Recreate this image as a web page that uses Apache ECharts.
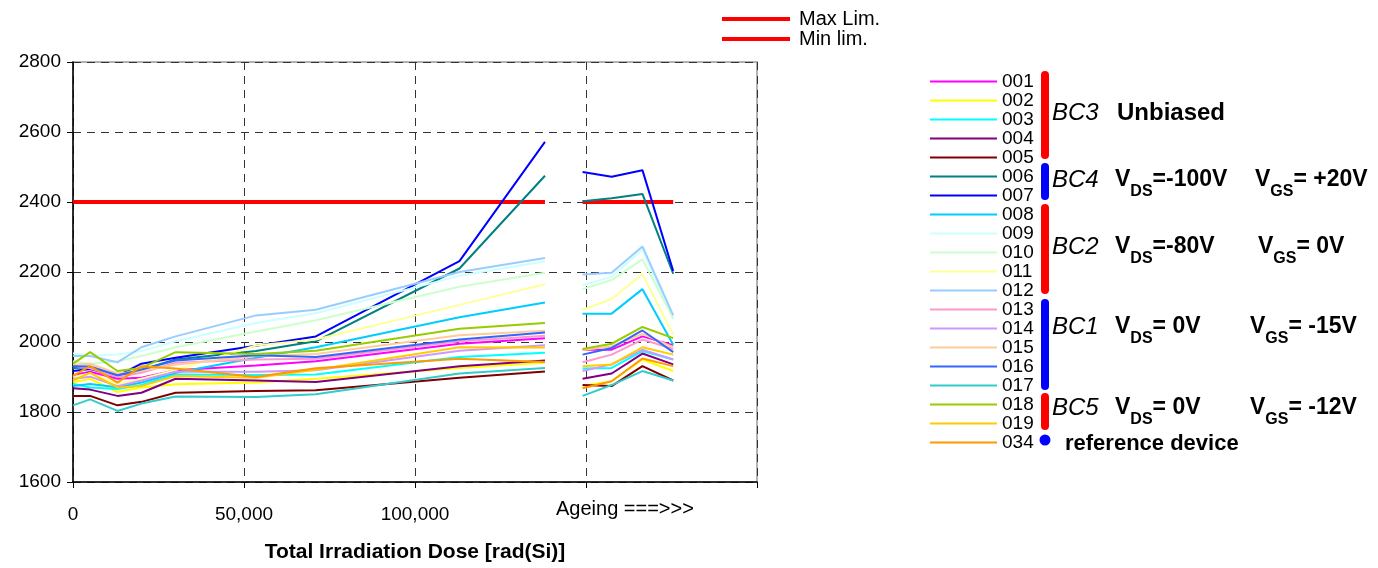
<!DOCTYPE html>
<html>
<head>
<meta charset="utf-8">
<script src="https://cdn.jsdelivr.net/npm/echarts@6/dist/echarts.min.js"></script>
<style>
  html, body { margin: 0; padding: 0; background: #fff; }
  #main { width: 1378px; height: 568px; }
</style>
</head>
<body>
<div id="main"></div>
<script>
// doses [rad(Si)] where the devices were measured, then the ageing steps
const doseIrr = [0, 5000, 13000, 20000, 30000, 53500, 71000, 113000, 138000];
const doseAgeing = [149000, 157500, 166500, 175500];
const gapDose = 143500; // no measurement here, the line breaks

const yTicks = ['1600', '1800', '2000', '2200', '2400', '2600', '2800'];
const xTickLabels = {0: '0', 50000: '50,000', 100000: '100,000'};

const maxLimit = 2400;
const minLimit = 1400; // below the visible range

const devices = ['001', '002', '003', '004', '005', '006', '007', '008', '009', '010',
  '011', '012', '013', '014', '015', '016', '017', '018', '019', '034'];
const devColors = ['#FF00FF', '#FFFF00', '#00FFFF', '#800080', '#800000', '#008080', '#0000FF',
  '#00CCFF', '#CCFFFF', '#CCFFCC', '#FFFF99', '#99CCFF', '#FF99CC', '#CC99FF', '#FFCC99',
  '#3366FF', '#33CCCC', '#99CC00', '#FFCC00', '#FF9900'];

// 9 irradiation readings followed by 4 ageing readings
const dev001 = [1905, 1915, 1895, 1898, 1919, 1933, 1945, 1995, 2011, 1978, 1978, 2016, 1991];
const dev002 = [1885, 1895, 1857, 1870, 1879, 1884, 1895, 1926, 1941, 1874, 1888, 1950, 1917];
const dev003 = [1880, 1870, 1866, 1877, 1907, 1906, 1907, 1957, 1969, 1924, 1926, 1974, 1950];
const dev004 = [1868, 1864, 1846, 1855, 1895, 1890, 1886, 1931, 1947, 1895, 1910, 1967, 1936];
const dev005 = [1846, 1846, 1819, 1829, 1855, 1860, 1862, 1898, 1916, 1877, 1874, 1931, 1890];
const dev006 = [1926, 1928, 1900, 1921, 1950, 1974, 2002, 2210, 2475, 2402, 2411, 2423, 2195];
const dev007 = [1917, 1923, 1903, 1938, 1955, 1989, 2016, 2231, 2572, 2486, 2472, 2491, 2203];
const dev008 = [1874, 1880, 1871, 1884, 1912, 1955, 1985, 2071, 2113, 2081, 2081, 2151, 1992];
const dev009 = [1968, 1960, 1964, 1974, 2002, 2054, 2082, 2189, 2231, 2163, 2186, 2265, 2065];
const dev010 = [1945, 1938, 1945, 1960, 1985, 2030, 2062, 2158, 2198, 2151, 2177, 2236, 2068];
const dev011 = [1900, 1910, 1880, 1895, 1920, 1990, 2007, 2106, 2165, 2092, 2123, 2194, 2021];
const dev012 = [1960, 1960, 1942, 1985, 2016, 2076, 2092, 2200, 2240, 2193, 2198, 2273, 2076];
const dev013 = [1932, 1925, 1900, 1912, 1941, 1950, 1952, 2002, 2018, 1942, 1964, 2007, 1980];
const dev014 = [1895, 1901, 1874, 1890, 1915, 1915, 1919, 1975, 1991, 1917, 1936, 1978, 1950];
const dev015 = [1935, 1938, 1910, 1918, 1935, 1960, 1966, 2019, 2032, 1977, 1988, 2023, 1985];
const dev016 = [1931, 1930, 1905, 1921, 1947, 1962, 1957, 2007, 2027, 1964, 1983, 2033, 1971];
const dev017 = [1819, 1836, 1803, 1824, 1844, 1843, 1851, 1910, 1926, 1846, 1877, 1917, 1890];
const dev018 = [1938, 1971, 1917, 1926, 1971, 1966, 1975, 2038, 2054, 1980, 1995, 2043, 2011];
const dev019 = [1890, 1912, 1870, 1874, 1903, 1898, 1921, 1985, 1984, 1931, 1936, 1985, 1964];
const dev034 = [1903, 1931, 1884, 1931, 1924, 1900, 1925, 1952, 1943, 1868, 1888, 1953, 1931];

const devValues = [dev001, dev002, dev003, dev004, dev005, dev006, dev007, dev008, dev009, dev010,
  dev011, dev012, dev013, dev014, dev015, dev016, dev017, dev018, dev019, dev034];

const SANS = '"Liberation Sans", Arial, sans-serif';

function toPoints(vals) {
  const pts = doseIrr.map((d, i) => [d, vals[i]]);
  pts.push([gapDose, '-']);
  doseAgeing.forEach((d, i) => pts.push([d, vals[doseIrr.length + i]]));
  return pts;
}
function flat(v) {
  return toPoints(new Array(doseIrr.length + doseAgeing.length).fill(v));
}

var myChart = echarts.init(document.getElementById('main'));

let series = [
  {name: 'Max Lim.', type: 'line', data: flat(maxLimit), symbol: 'none',
    lineStyle: {color: '#FF0000', width: 4}, itemStyle: {color: '#FF0000'}},
  {name: 'Min lim.', type: 'line', data: flat(minLimit), symbol: 'none', clip: true,
    lineStyle: {color: '#FF0000', width: 4}, itemStyle: {color: '#FF0000'}}
];
devices.forEach((name, i) => {
  series.push({
    name: name, type: 'line', data: toPoints(devValues[i]), symbol: 'none',
    lineStyle: {color: devColors[i], width: 2}, itemStyle: {color: devColors[i]}
  });
});

// group brackets and bias conditions on the right
const richV = {
  b: {fontFamily: SANS, fontSize: 23, fontWeight: 'bold', color: '#000'},
  sub: {fontFamily: SANS, fontSize: 16, fontWeight: 'bold', color: '#000', padding: [24, 0, 0, 0]}
};
function label(x, y, text, extra) {
  return {type: 'text', x: x, y: y, silent: true,
    style: Object.assign({text: text, fill: '#000', textVerticalAlign: 'middle', rich: richV}, extra || {})};
}
function italic(x, y, t) {
  return label(x, y, t, {font: 'italic 24px ' + SANS});
}
function bar(y, h, color) {
  return {type: 'rect', shape: {x: 1041, y: y, width: 8, height: h, r: 4}, style: {fill: color}, silent: true};
}

const groups = [
  bar(71, 88, '#FF0000'), bar(163, 37, '#0000FF'), bar(204, 90, '#FF0000'),
  bar(299, 91, '#0000FF'), bar(393, 37, '#FF0000'),
  {type: 'circle', shape: {cx: 1045, cy: 440, r: 5.5}, style: {fill: '#0000FF'}, silent: true},
  italic(1052, 113, 'BC3'),
  label(1117, 113, 'Unbiased', {font: 'bold 24px ' + SANS}),
  italic(1052, 180, 'BC4'),
  label(1115, 180, '{b|V}{sub|DS}{b|=-100V}'),
  label(1255, 180, '{b|V}{sub|GS}{b|= +20V}'),
  italic(1052, 247, 'BC2'),
  label(1115, 247, '{b|V}{sub|DS}{b|=-80V}'),
  label(1258, 247, '{b|V}{sub|GS}{b|= 0V}'),
  italic(1052, 327, 'BC1'),
  label(1115, 327, '{b|V}{sub|DS}{b|= 0V}'),
  label(1250, 327, '{b|V}{sub|GS}{b|= -15V}'),
  italic(1052, 408, 'BC5'),
  label(1115, 408, '{b|V}{sub|DS}{b|= 0V}'),
  label(1250, 408, '{b|V}{sub|GS}{b|= -12V}'),
  label(1065, 444, 'reference device', {font: 'bold 22px ' + SANS}),
  label(556, 509, 'Ageing ===>>>', {font: '20px ' + SANS})
];

myChart.setOption({
  animation: false,
  backgroundColor: '#fff',
  grid: {left: 73, right: 621, top: 62, bottom: 83, show: true, borderColor: '#999', borderWidth: 1.5},
  legend: [
    {data: ['Max Lim.', 'Min lim.'], orient: 'vertical', left: 722, top: 9, padding: 0, icon: 'rect',
      itemWidth: 68, itemHeight: 4, itemGap: 0, selectedMode: false,
      textStyle: {fontFamily: SANS, fontSize: 20, lineHeight: 19, color: '#000', padding: [0, 0, 0, 4]}},
    {data: devices, orient: 'vertical', left: 930, top: 72, padding: 0, icon: 'rect',
      itemWidth: 67, itemHeight: 2, itemGap: 0, selectedMode: false,
      textStyle: {fontFamily: SANS, fontSize: 19, lineHeight: 19, color: '#000'}}
  ],
  xAxis: {
    type: 'value', min: 0, max: 200000, interval: 50000,
    name: 'Total Irradiation Dose [rad(Si)]', nameLocation: 'middle', nameGap: 60,
    nameTextStyle: {fontFamily: SANS, fontSize: 21, fontWeight: 'bold', color: '#000'},
    axisLine: {lineStyle: {color: '#000', width: 1.5}},
    axisTick: {show: true, length: 6, lineStyle: {color: '#000'}},
    axisLabel: {margin: 23, fontFamily: SANS, fontSize: 19, color: '#000',
      formatter: v => xTickLabels[v] || ''},
    splitLine: {show: true, lineStyle: {color: '#333', type: [8, 6], width: 1}}
  },
  yAxis: {
    type: 'value', min: 1600, max: 2800, interval: 200,
    axisLine: {show: true, lineStyle: {color: '#000', width: 1.5}},
    axisTick: {show: true, length: 6, lineStyle: {color: '#000'}},
    axisLabel: {margin: 12, fontFamily: SANS, fontSize: 19, color: '#000',
      formatter: v => yTicks[yTicks.indexOf(String(v))]},
    splitLine: {show: true, lineStyle: {color: '#333', type: [8, 6], width: 1}}
  },
  graphic: groups,
  series: series
});
</script>
</body>
</html>
